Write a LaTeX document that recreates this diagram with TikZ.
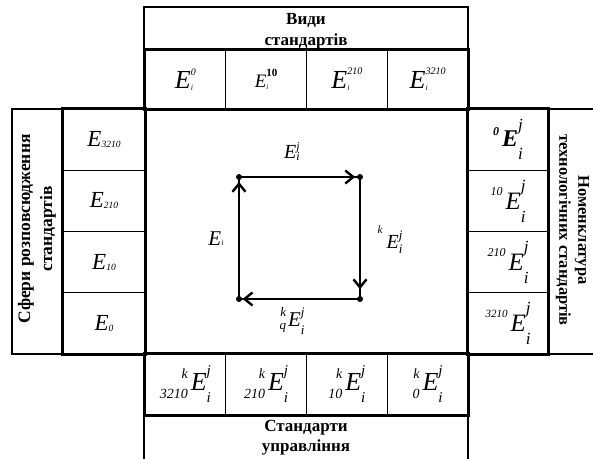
\documentclass[tikz,border=0pt]{standalone}
\usepackage{fontspec}
\setmainfont{Liberation Serif}
\usetikzlibrary{arrows.meta,decorations.markings}
\newcommand\fs[2]{{\fontsize{#1}{#1}\selectfont\itshape #2}}
\newcommand\fb[2]{{\fontsize{#1}{#1}\selectfont\bfseries #2}}
\newcommand\fbi[2]{{\fontsize{#1}{#1}\selectfont\bfseries\itshape #2}}
% prescripts: sup, raise, sub, raise (right aligned)
\newcommand\pre[4]{\hbox{\setbox0\hbox{\raisebox{#2}{#1}}\setbox2\hbox{\raisebox{#4}{#3}}\dimen0=\wd0 \ifdim\wd2>\dimen0 \dimen0=\wd2 \fi\hbox to\dimen0{\hfil\llap{\box0}\llap{\box2}}}}
% postscripts: sup, raise, sub, raise (left aligned)
\newcommand\post[4]{\hbox{\setbox0\hbox{\raisebox{#2}{#1}}\setbox2\hbox{\raisebox{#4}{#3}}\dimen0=\wd0 \ifdim\wd2>\dimen0 \dimen0=\wd2 \fi\hbox to\dimen0{\rlap{\box0}\rlap{\box2}\hfil}}}
\tikzset{
  cellbox/.style={draw, line width=1.3pt, inner sep=0pt, minimum width=#1},
  hcell/.style={cellbox=80.75pt, minimum height=59pt},
  bcell/.style={cellbox=80.75pt, minimum height=61pt},
  lcell/.style={cellbox=82pt, minimum height=61.25pt},
  rcell/.style={cellbox=80pt, minimum height=61.25pt},
  titlebox/.style={draw, line width=2pt, inner sep=0pt},
  titletext/.style={align=center, font=\bfseries\fontsize{17}{21}\selectfont, inner sep=0pt},
  lbl/.style={inner sep=0pt},
  side/.style={line width=2.8pt,
    decoration={markings, mark=at position #1 with {\arrow{Straight Barb[length=8pt,width=13pt,line width=2.4pt]}}},
    postaction={decorate}},
  dot/.style={circle, fill, inner sep=0pt, minimum size=6pt}
}
\begin{document}
\begin{tikzpicture}[x=1pt,y=-1pt]
\clip (0,0) rectangle (593,458);
\fill[white] (0,0) rectangle (593,458);
% title boxes
\node[titlebox, minimum width=324pt, minimum height=43pt] (ttop) at (306,28.5) {};
\node[titletext] (ttoptxt) at (306,31.5) {Види\\стандартів};
\node[titlebox, minimum width=324pt, minimum height=60pt] (tbot) at (306,445) {};
\node[titletext, font=\bfseries\fontsize{17}{20}\selectfont] (tbottxt) at (306,438) {Стандарти\\управління};
\node[titlebox, minimum width=51pt, minimum height=245pt] (tleft) at (37.5,231.5) {};
\node[titletext, rotate=90, font=\bfseries\fontsize{17.5}{22}\selectfont] (tlefttxt) at (37,229) {Сфери розповсюдження\\стандартів};
\node[titlebox, minimum width=56pt, minimum height=245pt] (tright) at (576,231.5) {};
\node[titletext, rotate=-90, font=\bfseries\fontsize{16.5}{19}\selectfont] (trighttxt) at (572.5,230) {Номенклатура\\технологічних стандартів};
% top cells
\node[hcell] (t1) at (185.375,79.5) {};
\node[hcell] (t2) at (266.125,79.5) {};
\node[hcell] (t3) at (346.875,79.5) {};
\node[hcell] (t4) at (427.625,79.5) {};
\node[lbl] (t1l) at (t1) {\fs{26}{E}\post{\fs{10}{0}}{13pt}{\fs{8}{i}}{-2pt}};
\node[lbl] (t2l) at (t2) {\fs{19}{E}\post{\fb{11}{10}}{11pt}{\fs{7}{i}}{-2pt}};
\node[lbl] (t3l) at (t3) {\fs{26}{E}\post{\fs{10}{210}}{14pt}{\fs{8}{i}}{-2pt}};
\node[lbl] (t4l) at (t4) {\fs{26}{E}\post{\fs{10}{3210}}{14pt}{\fs{8}{i}}{-2pt}};
% left cells
\node[lcell] (l1) at (104,139.625) {};
\node[lcell] (l2) at (104,200.875) {};
\node[lcell] (l3) at (104,262.125) {};
\node[lcell] (l4) at (104,323.375) {};
\node[lbl] (l1l) at (l1) {\fs{23}{E}\raisebox{-1pt}{\fs{9.5}{3210}}};
\node[lbl] (l2l) at (l2) {\fs{23}{E}\raisebox{-1pt}{\fs{9.5}{210}}};
\node[lbl] (l3l) at (l3) {\fs{23}{E}\raisebox{-1pt}{\fs{9.5}{10}}};
\node[lbl] (l4l) at (l4) {\fs{23}{E}\raisebox{-1pt}{\fs{9.5}{0}}};
% right cells
\node[rcell] (r1) at (508,139.625) {};
\node[rcell] (r2) at (508,200.875) {};
\node[rcell] (r3) at (508,262.125) {};
\node[rcell] (r4) at (508,323.375) {};
\node[lbl] (r1l) at (r1) {\pre{\fbi{12}{0}}{11pt}{}{0pt}\hspace{3pt}\fbi{24}{E}\post{\fs{17}{j}}{16pt}{\fs{17}{i}}{-13pt}};
\node[lbl] (r2l) at (r2) {\pre{\fs{12}{10}}{14pt}{}{0pt}\hspace{3pt}\fs{25}{E}\post{\fs{17}{j}}{18pt}{\fs{17}{i}}{-13pt}};
\node[lbl] (r3l) at (r3) {\pre{\fs{12}{210}}{14pt}{}{0pt}\hspace{3pt}\fs{25}{E}\post{\fs{17}{j}}{18pt}{\fs{17}{i}}{-13pt}};
\node[lbl] (r4l) at (r4) {\pre{\fs{11}{3210}}{14pt}{}{0pt}\hspace{3pt}\fs{25}{E}\post{\fs{17}{j}}{18pt}{\fs{17}{i}}{-13pt}};
% bottom cells
\node[bcell] (b1) at (185.375,384.5) {};
\node[bcell] (b2) at (266.125,384.5) {};
\node[bcell] (b3) at (346.875,384.5) {};
\node[bcell] (b4) at (427.625,384.5) {};
\node[lbl] (b1l) at (b1) {\pre{\fs{14}{k}}{12pt}{\fs{14}{3210}}{-8pt}\hspace{3pt}\fs{26}{E}\post{\fs{15}{j}}{15pt}{\fs{15}{i}}{-12pt}};
\node[lbl] (b2l) at (b2) {\pre{\fs{14}{k}}{12pt}{\fs{14}{210}}{-8pt}\hspace{3pt}\fs{26}{E}\post{\fs{15}{j}}{15pt}{\fs{15}{i}}{-12pt}};
\node[lbl] (b3l) at (b3) {\pre{\fs{14}{k}}{12pt}{\fs{14}{10}}{-8pt}\hspace{3pt}\fs{26}{E}\post{\fs{15}{j}}{15pt}{\fs{15}{i}}{-12pt}};
\node[lbl] (b4l) at (b4) {\pre{\fs{14}{k}}{12pt}{\fs{14}{0}}{-8pt}\hspace{3pt}\fs{26}{E}\post{\fs{15}{j}}{15pt}{\fs{15}{i}}{-12pt}};
% central frame
\node[draw, line width=2.6pt, minimum width=323pt, minimum height=245pt, inner sep=0pt] (frame) at (306.5,231.5) {};
\draw[line width=2pt] (t1.north west) rectangle (t4.south east);
\draw[line width=2pt] (b1.north west) rectangle (b4.south east);
\draw[line width=2pt] (l1.north west) rectangle (l4.south east);
\draw[line width=2pt] (r1.north west) rectangle (r4.south east);
% central square
\coordinate (A) at (239,177);
\coordinate (B) at (360,177);
\coordinate (C) at (360,299);
\coordinate (D) at (239,299);
\draw[side=0.96] (A) -- (B);
\draw[side=0.92] (B) -- (C);
\draw[side=0.97] (C) -- (D);
\draw[side=0.96] (D) -- (A);
\node[dot] (dA) at (A) {};
\node[dot] (dB) at (B) {};
\node[dot] (dC) at (C) {};
\node[dot] (dD) at (D) {};
\node[lbl] (lt) at (292,152) {\fs{20}{E}\post{\fs{12}{j}}{8pt}{\fs{12}{i}}{-2pt}};
\node[lbl] (ll) at (216,239) {\fs{21}{E}\fs{8}{i}};
\node[lbl] (lr) at (390,240) {\pre{\fs{11}{k}}{15pt}{}{0pt}\hspace{4pt}\fs{20}{E}\post{\fs{13}{j}}{9pt}{\fs{13}{i}}{-5pt}};
\node[lbl] (lb) at (292,321) {\pre{\fs{13}{k}}{10pt}{\fs{13}{q}}{-3pt}\hspace{2pt}\fs{21}{E}\post{\fs{13}{j}}{10pt}{\fs{13}{i}}{-8pt}};
\end{tikzpicture}
\end{document}
